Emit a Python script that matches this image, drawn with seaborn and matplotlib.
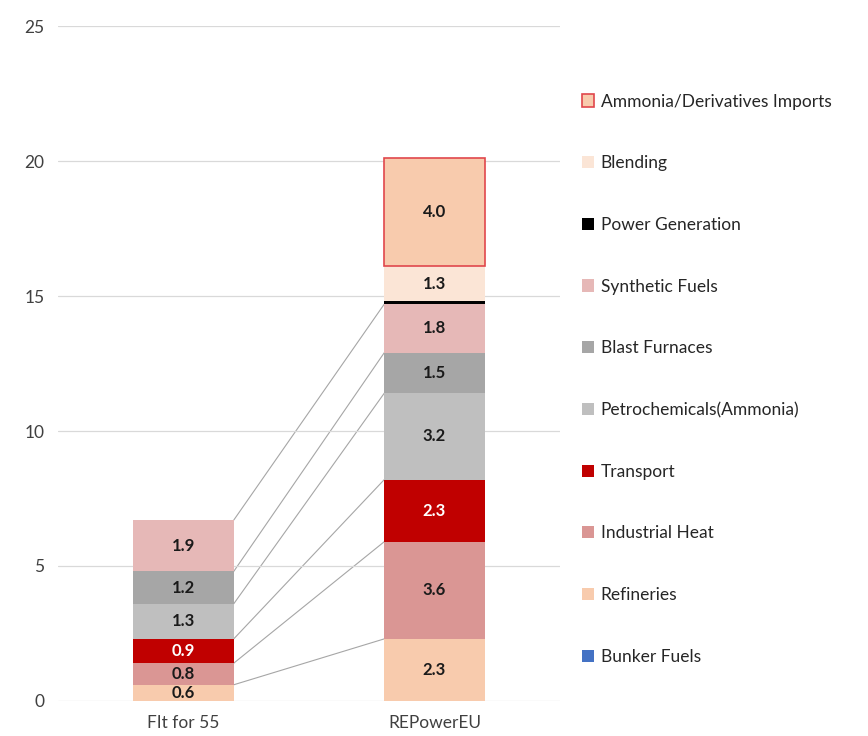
import numpy as np
import pandas as pd
import matplotlib
matplotlib.use("Agg")
import matplotlib.pyplot as plt
from matplotlib.patches import Patch
import seaborn as sns

scenarios = ["FIt for 55", "REPowerEU"]
sectors = ["Bunker Fuels", "Refineries", "Industrial Heat", "Transport",
           "Petrochemicals(Ammonia)", "Blast Furnaces", "Synthetic Fuels",
           "Power Generation", "Blending", "Ammonia/Derivatives Imports"]
fit55 = [0.0, 0.6, 0.8, 0.9, 1.3, 1.2, 1.9, 0.0, 0.0, 0.0]
repower = [0.0, 2.3, 3.6, 2.3, 3.2, 1.5, 1.8, 0.1, 1.3, 4.0]
colors = ["#4472C4", "#F8CBAD", "#DA9694", "#C00000", "#BFBFBF",
          "#A6A6A6", "#E6B8B7", "#000000", "#FBE5D6", "#F8CBAD"]

sns.set_theme(style="white")
plt.rcParams["font.family"] = ["Lato", "DejaVu Sans"]

fig = plt.figure(figsize=(8.68, 7.36), dpi=100)
ax = fig.add_axes([0.067, 0.0476, 0.578, 0.917])

bottom = np.zeros(2)
tops = []
for name, a, b, c in zip(sectors, fit55, repower, colors):
    df = pd.DataFrame({"scenario": scenarios, "value": [a, b]})
    outlined = name.startswith("Ammonia")
    edges = [("#E0474C" if (outlined and v > 0) else "none") for v in [a, b]]
    sns.barplot(data=df, x="scenario", y="value", bottom=bottom.copy(),
                color=c, saturation=1, width=0.4, ax=ax,
                edgecolor=edges, linewidth=1.2 if outlined else 0)
    for i, v in enumerate([a, b]):
        if v >= 0.3:
            tc = "white" if name == "Transport" else "#1a1a1a"
            ax.text(i, bottom[i] + v / 2, f"{v:.1f}", ha="center", va="center",
                    fontsize=12, fontweight="bold", color=tc)
    bottom = bottom + np.array([a, b])
    tops.append(bottom.copy())

# connector lines between matching segment tops
for name, t in zip(sectors, tops):
    if name in ["Bunker Fuels", "Power Generation", "Blending",
                "Ammonia/Derivatives Imports"]:
        continue
    ax.plot([0.2, 0.8], [t[0], t[1]], color="#A6A6A6", lw=0.8, zorder=0.5)

ax.set_xlim(-0.5, 1.5)
ax.set_ylim(0, 25)
ax.set_yticks([0, 5, 10, 15, 20, 25])
ax.yaxis.grid(True, color="#D9D9D9", lw=0.9)
ax.set_axisbelow(True)
for s in ax.spines.values():
    s.set_visible(False)
ax.set_xlabel("")
ax.set_ylabel("")
ax.tick_params(axis="both", labelsize=12.5, colors="#404040", length=0)
ax.tick_params(axis="x", pad=10)
ax.tick_params(axis="y", pad=10)

handles = []
for name, c in zip(sectors, colors):
    if name.startswith("Ammonia"):
        handles.append(Patch(facecolor=c, edgecolor="#E0474C", lw=1.2, label=name))
    else:
        handles.append(Patch(facecolor=c, edgecolor="none", label=name))
fig.legend(handles[::-1], sectors[::-1], loc="upper left",
           bbox_to_anchor=(0.652, 0.894), frameon=False, fontsize=12.5,
           handlelength=0.7, handleheight=0.7, handletextpad=0.4,
           labelspacing=2.63, labelcolor="#262626")

fig.savefig("out.png", dpi=100)
